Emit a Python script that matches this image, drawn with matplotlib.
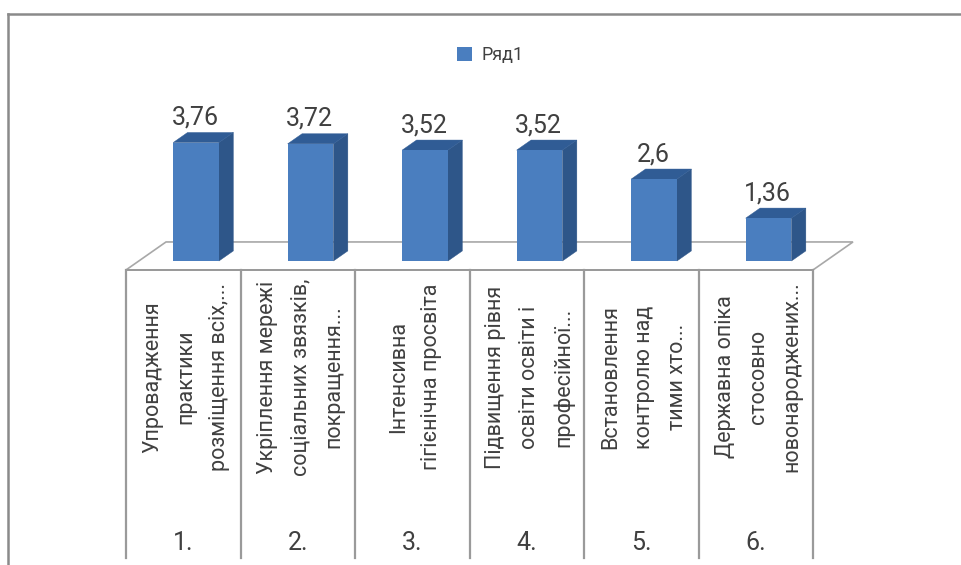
import matplotlib
matplotlib.use("Agg")
import matplotlib.pyplot as plt
from matplotlib.patches import Polygon
from matplotlib.lines import Line2D
import numpy as np

# ---- data -------------------------------------------------------------
categories = [
    "Упровадження\nпрактики\nрозміщення всіх,...",
    "Укріплення мережі\nсоціальних звязків,\nпокращення...",
    "Інтенсивна\nгігієнічна просвіта",
    "Підвищення рівня\nосвіти освіти і\nпрофесійної...",
    "Встановлення\nконтролю над\nтими хто...",
    "Державна опіка\nстосовно\nновонароджених...",
]
group_labels = ["1.", "2.", "3.", "4.", "5.", "6."]
values = [3.76, 3.72, 3.52, 3.52, 2.6, 1.36]
series_name = "Ряд1"

# ---- style ------------------------------------------------------------
plt.rcParams['font.family'] = ['Roboto', 'DejaVu Sans']
TEXT = '#404040'
FRONT = '#4a7ebf'
SIDE = '#2e5689'
TOP = '#305c95'
GRID = '#9a9a9a'

W, H = 961, 565
fig = plt.figure(figsize=(W / 100, H / 100), dpi=100)
ax = fig.add_axes([0, 0, 1, 1])
ax.axis('off')

# layout of the plot area (pixels, origin top-left)
left_px, cat_px = 126, 114.5       # left edge of the category band, width per category
base_px, unit_px = 261, 31.5       # baseline of the columns, pixels per unit
floor_dx, floor_dy = 40, 28        # perspective depth of the floor
t_front, t_back = 0.32, 0.68       # columns sit in the middle of the floor depth
bottom_px = 558                    # lower end of the category table

n = len(values)
ax.set_xlim(-0.5 - left_px / cat_px, -0.5 + (W - left_px) / cat_px)
ax.set_ylim(-(H - base_px) / unit_px, base_px / unit_px)

inv = ax.transData.inverted()
def px_vec(dx, dy):
    a = inv.transform((0, 0))
    b = inv.transform((dx, dy))
    return b - a

def px_y(y_top):
    return inv.transform((0, H - y_top))[1]

Dx, Dy = px_vec(floor_dx, floor_dy)
x = np.arange(n)

# floor
y_front = -t_front * Dy
y_back = (1 - t_front) * Dy
floor = Polygon([(-0.5, y_front), (n - 0.5, y_front),
                 (n - 0.5 + Dx, y_back), (-0.5 + Dx, y_back)],
                closed=True, facecolor='white', edgecolor='#a8a8a8',
                lw=1.2, zorder=1)
ax.add_patch(floor)

# category table below the floor
y_bottom = px_y(bottom_px)
for b in np.arange(n + 1) - 0.5:
    ax.add_line(Line2D([b, b], [y_front, y_bottom], color=GRID, lw=1.6, zorder=2))
ax.add_line(Line2D([-0.5, n - 0.5], [y_front, y_front], color=GRID, lw=1.4, zorder=2))

# 3-D columns
bar_w = 0.40
shift = t_front * Dx
ddx, ddy = (t_back - t_front) * Dx, (t_back - t_front) * Dy
bars = ax.bar(x + shift, values, width=bar_w, color=FRONT, zorder=4,
              label=series_name, linewidth=0)
for xi, v in zip(x + shift, values):
    xl, xr = xi - bar_w / 2, xi + bar_w / 2
    side = Polygon([(xr, 0), (xr + ddx, ddy), (xr + ddx, v + ddy), (xr, v)],
                   closed=True, facecolor=SIDE, edgecolor=SIDE, lw=0.3, zorder=3)
    top = Polygon([(xl, v), (xr, v), (xr + ddx, v + ddy), (xl + ddx, v + ddy)],
                  closed=True, facecolor=TOP, edgecolor=TOP, lw=0.3, zorder=3)
    ax.add_patch(side)
    ax.add_patch(top)

# value labels
for xi, v in zip(x + shift, values):
    ax.annotate(f"{v:g}".replace('.', ','), (xi, v), xytext=(-1, 25),
                textcoords='offset pixels', ha='center', va='center',
                fontsize=18, color=TEXT, zorder=6)

# category labels
y_cat = px_y(377)
y_num = px_y(543)
for xi, lab, g in zip(x, categories, group_labels):
    ax.text(xi + 3 / cat_px, y_cat, lab, rotation=90, ha='center', va='center',
            multialignment='center', fontsize=15.5, color=TEXT,
            linespacing=1.78, zorder=6)
    ax.text(xi, y_num, g, ha='center', va='center', fontsize=18, color=TEXT, zorder=6)

# legend
fig.legend(handles=[bars], labels=[series_name], loc='center',
           bbox_to_anchor=(490 / W, 1 - 55 / H), frameon=False,
           fontsize=13, handlelength=0.85, handleheight=0.85,
           handletextpad=0.5, labelcolor=TEXT)

# chart frame
fig.add_artist(Line2D([8 / W, 1], [1 - 14 / H, 1 - 14 / H], transform=fig.transFigure,
                      color='#8a8a8a', lw=1.8))
fig.add_artist(Line2D([8 / W, 8 / W], [1 - 14 / H, 0], transform=fig.transFigure,
                      color='#8a8a8a', lw=1.8))

fig.savefig('out.png', dpi=100, facecolor='white')
